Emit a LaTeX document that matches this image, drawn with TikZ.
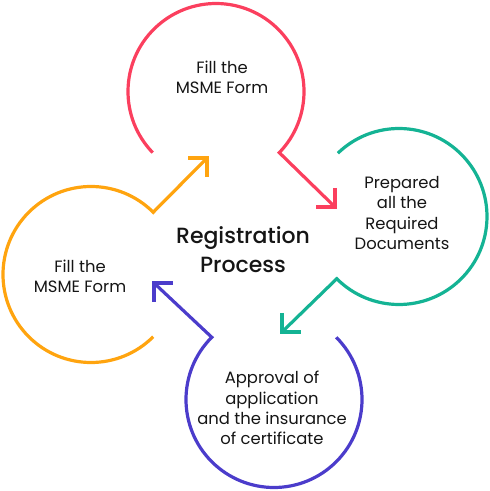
\documentclass[tikz,border=0pt]{standalone}
\usepackage{fontspec}
\usetikzlibrary{calc}
\setmainfont{Poppins}
\newfontfamily\titlefont{Poppins Medium}
\definecolor{cred}{HTML}{FB3F5E}
\definecolor{cgreen}{HTML}{14B394}
\definecolor{cpurple}{HTML}{4B3CCB}
\definecolor{corange}{HTML}{FFA40F}
\definecolor{ctext}{HTML}{151515}
\begin{document}
\begin{tikzpicture}[x=1pt,y=1pt,
  ring/.style={line width=3.2pt, line join=miter, line cap=butt},
  barb/.style={line width=3.2pt, line join=miter, line cap=butt},
  lbl/.style={align=center, text=ctext, font=\fontsize{16.4}{20.3}\selectfont},
  ttl/.style={align=center, text=ctext, font=\titlefont\fontsize{22}{29}\selectfont}]
\useasboundingbox (0,0) rectangle (490,491);
% centres (pixel y -> 491-y)
\coordinate (cr) at (216,399.5);
\coordinate (cg) at (399,274.5);
\coordinate (cp) at (274,91.5);
\coordinate (co) at (91,216.5);
\coordinate (tr) at (335,284);
\coordinate (tg) at (282,159);
\coordinate (tp) at (154,208);
\coordinate (to) at (207,333);
% red
\draw[ring, cred] ($(cr)+(224:88)$) arc[start angle=224, end angle=-44, radius=88] -- (tr);
\draw[barb, cred] ($(tr)+(0,19)$) -- (tr) -- ($(tr)+(-19,0)$);
% green
\draw[ring, cgreen] ($(cg)+(134:88)$) arc[start angle=134, end angle=-135, radius=88] -- (tg);
\draw[barb, cgreen] ($(tg)+(0,19)$) -- (tg) -- ($(tg)+(19,0)$);
% purple
\draw[ring, cpurple] ($(cp)+(45:88)$) arc[start angle=45, end angle=-225, radius=88] -- (tp);
\draw[barb, cpurple] ($(tp)+(0,-19)$) -- (tp) -- ($(tp)+(19,0)$);
% orange
\draw[ring, corange] ($(co)+(-45:88)$) arc[start angle=-45, end angle=-315, radius=88] -- (to);
\draw[barb, corange] ($(to)+(0,-19)$) -- (to) -- ($(to)+(-19,0)$);
% texts
\node[lbl] (lr) at (222,414) {Fill the\\MSME Form};
\node[lbl] (lg) at (402,278) {Prepared\\all the\\Required\\Documents};
\node[lbl] (lp) at (272,83) {Approval of\\application\\and the insurance\\of certificate};
\node[lbl] (lo) at (80,215) {Fill the\\MSME Form};
\node[ttl] (title) at (243,241) {Registration\\Process};
\end{tikzpicture}
\end{document}
